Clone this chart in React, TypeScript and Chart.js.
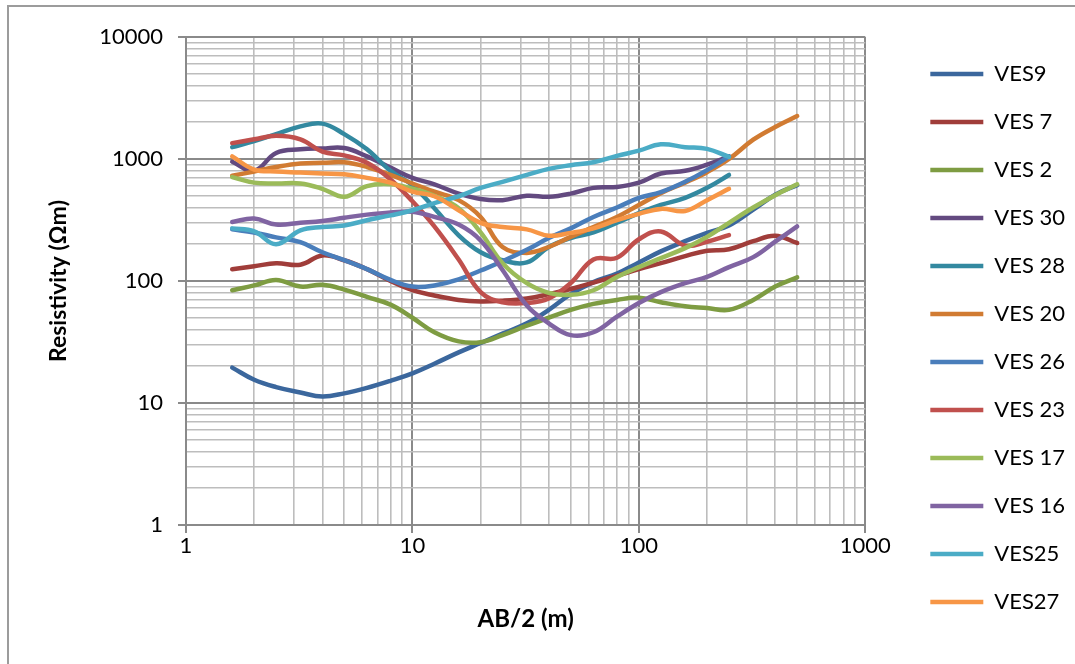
import React, { useEffect, useRef } from 'react';
import { Chart, registerables } from 'chart.js';

Chart.register(...registerables);

// AB/2 electrode spacings (m)
const abHalf = [1.6, 2, 2.5, 3.2, 4, 5, 6.3, 8, 10, 12.5, 16, 20, 25, 32, 40, 50, 63, 80, 100, 125, 160, 200, 250, 320, 400, 500];

const seriesNames = ['VES9', 'VES 7', 'VES 2', 'VES 30', 'VES 28', 'VES 20', 'VES 26', 'VES 23', 'VES 17', 'VES 16', 'VES25', 'VES27'];

const ves9 = [19.5, 15.5, 13.5, 12.2, 11.3, 12, 13.3, 15.2, 17.5, 21, 26, 31, 37, 45, 58, 78, 98, 115, 142, 175, 212, 248, 285, 385, 510, 610];
const ves7 = [125, 132, 140, 136, 162, 148, 125, 100, 84, 76, 70, 68, 69, 72, 78, 86, 97, 110, 125, 140, 160, 177, 182, 212, 235, 205];
const ves2 = [84, 92, 102, 90, 93, 85, 74, 64, 50, 38, 32, 31.5, 36, 43, 50, 58, 65, 70, 73, 67, 62, 60, 58, 70, 90, 107];
const ves30 = [950, 800, 1120, 1200, 1220, 1230, 1050, 850, 700, 620, 520, 470, 460, 500, 490, 520, 580, 590, 640, 760, 800, 900, 1050];
const ves28 = [1250, 1400, 1600, 1850, 1950, 1600, 1200, 800, 610, 395, 237, 172, 148, 142, 190, 225, 250, 300, 360, 420, 480, 580, 740];
const ves20 = [730, 790, 860, 920, 930, 940, 860, 740, 630, 540, 460, 335, 190, 170, 190, 230, 277, 335, 420, 525, 640, 780, 1000, 1440, 1830, 2250];
const ves26 = [265, 250, 228, 208, 172, 148, 125, 102, 90, 92, 103, 122, 145, 180, 225, 270, 335, 400, 480, 535, 650, 810, 1050];
const ves23 = [1350, 1450, 1550, 1450, 1150, 1070, 930, 680, 450, 280, 150, 81, 67, 66, 72, 96, 150, 155, 220, 255, 195, 210, 238];
const ves17 = [710, 640, 630, 630, 570, 490, 600, 620, 570, 500, 395, 250, 140, 96, 80, 77, 84, 108, 130, 154, 186, 230, 300, 400, 505, 620];
const ves16 = [305, 325, 290, 300, 310, 330, 350, 365, 370, 335, 290, 215, 123, 63, 45, 36, 38, 51, 66, 81, 96, 108, 130, 157, 210, 280];
const ves25 = [270, 255, 200, 260, 277, 285, 315, 345, 380, 435, 495, 580, 650, 740, 830, 890, 940, 1060, 1170, 1320, 1250, 1210, 1040];
const ves27 = [1050, 820, 790, 775, 760, 750, 700, 640, 540, 495, 380, 300, 277, 265, 235, 248, 270, 315, 355, 390, 375, 460, 570];

const seriesValues = [ves9, ves7, ves2, ves30, ves28, ves20, ves26, ves23, ves17, ves16, ves25, ves27];

const seriesColors = ['#3b679d', '#a03d3a', '#7e9c42', '#634a80', '#3389a0', '#d17b32', '#4a7ebb', '#c0504d', '#9bbb59', '#8064a2', '#4bacc6', '#f79646'];

const xTickLabels = [1, 10, 100, 1000];
const yTickLabels = [1, 10, 100, 1000, 10000];

const FONT = 'Lato, "Noto Sans", sans-serif';

const isPow10 = (v: number) => {
  if (!(v > 0)) return false;
  const l = Math.log10(v);
  return Math.abs(l - Math.round(l)) < 1e-9;
};

const keepIntegerMantissa = (scale: any) => {
  scale.ticks = scale.ticks.filter((t: any) => {
    const e = Math.floor(Math.log10(t.value) + 1e-9);
    const m = t.value / Math.pow(10, e);
    return Math.abs(m - Math.round(m)) < 1e-6;
  });
};

const gridColor = (ctx: any) => (ctx.tick && isPow10(ctx.tick.value) ? '#8a8a8a' : '#bdbdbd');
const gridWidth = (ctx: any) => (ctx.tick && isPow10(ctx.tick.value) ? 2 : 1.6);
const tickColor = (ctx: any) => (ctx.tick && isPow10(ctx.tick.value) ? '#8a8a8a' : 'rgba(0,0,0,0)');

export default function App() {
  const canvasRef = useRef<HTMLCanvasElement | null>(null);

  useEffect(() => {
    if (!canvasRef.current) return;
    const datasets = seriesNames.map((name, i) => ({
      label: name,
      data: seriesValues[i].map((v, j) => ({ x: abHalf[j], y: v })),
      borderColor: seriesColors[i],
      backgroundColor: seriesColors[i],
      borderWidth: 4.5,
      pointRadius: 0,
      pointHoverRadius: 0,
      tension: 0.4,
      fill: false,
      borderCapStyle: 'round' as const,
      borderJoinStyle: 'round' as const,
      order: seriesNames.length - 1 - i,
      xAxisID: 'x',
      yAxisID: 'y',
    }));

    const chart = new Chart(canvasRef.current, {
      type: 'line',
      data: { datasets },
      options: {
        animation: false,
        responsive: false,
        maintainAspectRatio: false,
        layout: { padding: { left: 10, top: 37, right: 0, bottom: 10 } },
        plugins: {
          tooltip: { enabled: false },
          legend: {
            position: 'right',
            align: 'start',
            maxWidth: 176,
            labels: {
              usePointStyle: true,
              pointStyle: 'line',
              pointStyleWidth: 53,
              padding: 26,
              color: '#000',
              font: { family: FONT, size: 22 },
              sort: (a: any, b: any) => a.datasetIndex - b.datasetIndex,
            },
          },
        },
        scales: {
          x: {
            type: 'logarithmic',
            position: 'bottom',
            min: 1,
            max: 1000,
            afterBuildTicks: keepIntegerMantissa,
            afterFit: (s: any) => { s.height = 129; },
            grid: { color: gridColor, lineWidth: gridWidth, tickColor, tickLength: 8, drawTicks: true },
            border: { display: true, color: '#8a8a8a', width: 2 },
            ticks: {
              autoSkip: false,
              maxRotation: 0,
              padding: 0,
              color: '#000',
              font: { family: FONT, size: 22 },
              callback: (v: any) => (xTickLabels.includes(Number(v)) ? String(v) : ''),
            },
            title: {
              display: true,
              text: 'AB/2 (m)',
              color: '#000',
              font: { family: FONT, size: 24, weight: 'bold' },
              padding: { top: 0, bottom: 20 },
            },
          },
          y: {
            type: 'logarithmic',
            position: 'left',
            min: 1,
            max: 10000,
            afterBuildTicks: keepIntegerMantissa,
            afterFit: (s: any) => { s.width = 176; },
            grid: { color: gridColor, lineWidth: gridWidth, tickColor, tickLength: 8, drawTicks: true },
            border: { display: true, color: '#8a8a8a', width: 2 },
            ticks: {
              autoSkip: false,
              padding: 15,
              color: '#000',
              font: { family: FONT, size: 22 },
              callback: (v: any) => (yTickLabels.includes(Number(v)) ? String(v) : ''),
            },
            title: {
              display: true,
              text: 'Resistivity (Ωm)',
              color: '#000',
              font: { family: FONT, size: 23, weight: 'bold' },
              padding: { top: 35, bottom: 0 },
            },
          },
          pad: {
            type: 'linear',
            axis: 'y',
            position: 'right',
            display: true,
            afterFit: (s: any) => { s.width = 39; },
            grid: { display: false, drawTicks: false },
            border: { display: false },
            ticks: { display: false },
          },
        },
      } as any,
    });

    return () => chart.destroy();
  }, []);

  return (
    <div style={{ position: 'absolute', left: 0, top: 0, width: 1075, height: 664, overflow: 'hidden', background: '#fff' }}>
      <div style={{ position: 'absolute', left: 7, top: 5, width: 1200, height: 800, border: '2px solid #9c9c9c' }} />
      <canvas ref={canvasRef} width={1075} height={664} style={{ position: 'absolute', left: 0, top: 0 }} />
    </div>
  );
}
